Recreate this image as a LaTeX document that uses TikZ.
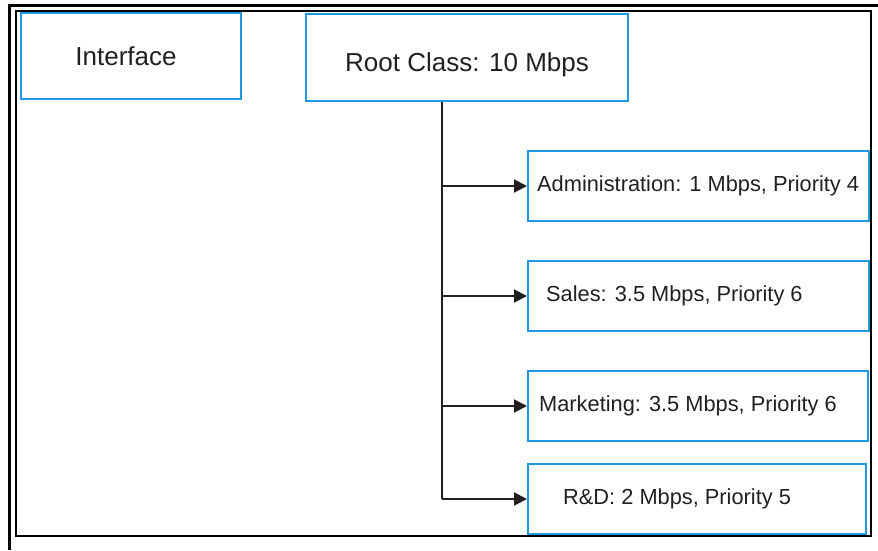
\documentclass[tikz,border=0pt]{standalone}
\usepackage{fontspec}
\setmainfont{Liberation Sans}
\usetikzlibrary{arrows.meta, positioning}
\definecolor{boxblue}{RGB}{30,152,222}
\definecolor{ink}{RGB}{35,31,32}

\begin{document}
\begin{tikzpicture}[
  x=1pt, y=-1pt,
  cls/.style={draw=boxblue, line width=2pt, inner sep=0pt, text=ink},
  rootbox/.style={cls, font=\fontsize{26}{30}\selectfont},
  leafbox/.style={cls, minimum width=341pt, minimum height=70pt},
  lbl/.style={anchor=west, inner sep=0pt, text=ink, font=\fontsize{21.8}{26}\selectfont},
  edge/.style={-{Triangle[length=13pt, width=13pt]}, line width=2pt, draw=ink}
]
\useasboundingbox (0,0) rectangle (878,550);

% page frame
\draw[line width=3.5pt] (7.5,5.5) -- (878,5.5);
\draw[line width=3.5pt] (9.5,4) -- (9.5,550);
\draw[line width=1.5pt] (16,11) rectangle (871,536);

\node[rootbox, anchor=north west, minimum width=220pt, minimum height=86pt] (iface) at (20,12) {Interface\kern10pt};
\node[rootbox, anchor=north west, minimum width=322pt, minimum height=87pt, text height=33pt] (root) at (305,13) {Root Class: 10 Mbps};

\node[leafbox, anchor=north west] (adm) at (527,150) {};
\node[leafbox, below=38pt of adm.south west, anchor=north west] (sales) {};
\node[leafbox, below=38pt of sales.south west, anchor=north west, minimum width=340pt] (mkt) {};
\node[leafbox, below=21pt of mkt.south west, anchor=north west, minimum width=338pt] (rnd) {};

\node[lbl] (admtxt) at ([xshift=10pt]adm.west) {Administration: 1 Mbps, Priority 4};
\node[lbl] (salestxt) at ([xshift=19pt]sales.west) {Sales: 3.5 Mbps, Priority 6};
\node[lbl] (mkttxt) at ([xshift=12pt]mkt.west) {Marketing: 3.5 Mbps, Priority 6};
\node[lbl] (rndtxt) at ([xshift=36pt]rnd.west) {R\&D: 2 Mbps, Priority 5};

\coordinate (trunk) at ([xshift=-25pt]root.south);
\draw[line width=2pt, draw=ink] (trunk) -- (trunk |- rnd.west);
\foreach \leaf in {adm, sales, mkt, rnd}
  \draw[edge] (trunk |- \leaf.west) -- (\leaf.west);
\end{tikzpicture}
\end{document}
